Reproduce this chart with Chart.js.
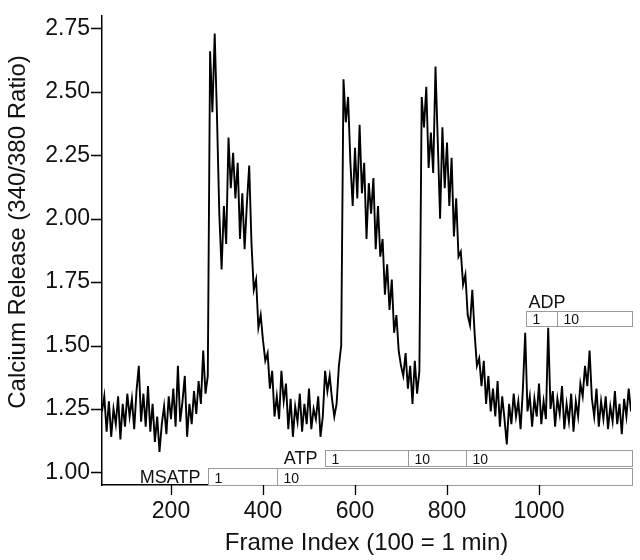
<!DOCTYPE html>
<html>
<head>
<meta charset="utf-8">
<script src="https://cdn.jsdelivr.net/npm/chart.js@4.4.0/dist/chart.umd.min.js"></script>
<style>
  html, body { margin: 0; padding: 0; background: #fff; }
  #wrap { width: 640px; height: 560px; }
</style>
</head>
<body>
<div id="wrap"><canvas id="myChart" width="640" height="560"></canvas></div>
<script>
// 340/380 ratio, every 5 frames starting at frame 50
const frameStart = 50;
const frameStep = 5;
const ratio = [
  // baseline 50-275
  1.24, 1.30, 1.16, 1.28, 1.14, 1.25, 1.19, 1.30, 1.13, 1.27,
  1.18, 1.31, 1.22, 1.29, 1.17, 1.32, 1.42, 1.20, 1.31, 1.18,
  1.34, 1.16, 1.27, 1.12, 1.22, 1.08, 1.19, 1.26, 1.15, 1.30,
  1.21, 1.33, 1.18, 1.42, 1.20, 1.28, 1.38, 1.14, 1.27, 1.19,
  1.32, 1.23, 1.36, 1.27, 1.48, 1.31,
  // first response 280-440
  1.38, 2.66, 2.42, 2.73, 2.40, 2.02, 1.80, 2.05, 1.90, 2.32,
  2.12, 2.26, 2.08, 2.22, 1.92, 2.10, 1.88, 2.06, 2.21, 1.90,
  1.72, 1.76, 1.57, 1.62, 1.52, 1.44, 1.47, 1.33, 1.40, 1.22,
  1.30, 1.21, 1.40,
  // 445-570
  1.28, 1.35, 1.17, 1.29, 1.14, 1.26, 1.20, 1.31, 1.16, 1.27,
  1.19, 1.33, 1.17, 1.25, 1.21, 1.30, 1.14, 1.22, 1.40, 1.32,
  1.38, 1.29, 1.22, 1.27, 1.42, 1.50,
  // second response 575-740
  2.55, 2.38, 2.48, 2.22, 2.05, 2.28, 2.08, 2.37, 2.10, 2.22,
  1.92, 2.14, 2.02, 2.16, 1.88, 2.05, 1.85, 1.92, 1.70, 1.82,
  1.64, 1.76, 1.55, 1.62, 1.48, 1.42, 1.38, 1.47, 1.33, 1.42,
  1.27, 1.44, 1.31, 1.40,
  // third response 745-900
  2.48, 2.36, 2.52, 2.20, 2.34, 2.18, 2.60, 2.30, 2.00, 2.36,
  2.12, 2.30, 2.05, 2.24, 1.93, 2.08, 1.85, 1.87, 1.74, 1.78,
  1.62, 1.58, 1.72, 1.55, 1.42, 1.45, 1.34, 1.44, 1.27, 1.38,
  1.24, 1.33,
  // 905-1200
  1.22, 1.36, 1.18, 1.30, 1.21, 1.11, 1.27, 1.19, 1.31, 1.22,
  1.28, 1.17, 1.33, 1.55, 1.24, 1.30, 1.18, 1.29, 1.22, 1.35,
  1.19, 1.28, 1.21, 1.57, 1.25, 1.32, 1.18, 1.29, 1.23, 1.34,
  1.17, 1.27, 1.20, 1.31, 1.16, 1.28, 1.22, 1.35, 1.30, 1.42,
  1.34, 1.48, 1.29, 1.22, 1.33, 1.18, 1.28, 1.21, 1.30, 1.17,
  1.26, 1.20, 1.32, 1.19, 1.27, 1.15, 1.29, 1.22, 1.33, 1.24
];

const frames = ratio.map((_, i) => frameStart + i * frameStep);

// axis ranges / tick steps
const xMin = 50, xMax = 1200, xMinorStep = 50, xMajorStep = 200;
const yMin = 0.95, yMax = 2.80, yMinorStep = 0.05, yMajorStep = 0.25;
const xLabelled = [200, 400, 600, 800, 1000];
const yTitle = 'Calcium Release (340/380 Ratio)';

// drug application bars (start frame of each segment, concentration)
const msatpStarts = [280, 430];
const msatpDoses = ['1', '10'];
const atpStarts = [535, 715, 841];
const atpDoses = ['1', '10', '10'];
const adpStarts = [972, 1039];
const adpDoses = ['1', '10'];
const barsEnd = 1202;

const bars = [
  { name: 'MSATP', starts: msatpStarts, doses: msatpDoses, lo: 0.95, hi: 1.017, nameAt: 'left' },
  { name: 'ATP', starts: atpStarts, doses: atpDoses, lo: 1.023, hi: 1.088, nameAt: 'left' },
  { name: 'ADP', starts: adpStarts, doses: adpDoses, lo: 1.577, hi: 1.638, nameAt: 'top' }
];

const FONT = '"Liberation Sans", Arial, Helvetica, sans-serif';

function isMultiple(v, step) {
  const q = v / step;
  return Math.abs(q - Math.round(q)) < 1e-6;
}

const axisTicks = {
  id: 'axisTicks',
  afterDraw(chart) {
    const { ctx, chartArea, scales: { x, y } } = chart;
    ctx.save();
    ctx.strokeStyle = '#000';
    ctx.lineWidth = 1.3;
    ctx.beginPath();
    x.ticks.forEach(t => {
      const px = Math.round(x.getPixelForValue(t.value)) + 0.5;
      const len = isMultiple(t.value, xMajorStep) ? 10 : 5;
      ctx.moveTo(px, chartArea.bottom);
      ctx.lineTo(px, chartArea.bottom + len);
    });
    y.ticks.forEach(t => {
      const py = Math.round(y.getPixelForValue(t.value)) + 0.5;
      const len = isMultiple(t.value, yMajorStep) ? 11 : 6;
      ctx.moveTo(chartArea.left - len, py);
      ctx.lineTo(chartArea.left, py);
    });
    ctx.stroke();

    // y axis title, sits a little above the axis middle in the original
    ctx.translate(18, 232);
    ctx.rotate(-Math.PI / 2);
    ctx.font = '24px ' + FONT;
    ctx.fillStyle = '#111';
    ctx.textAlign = 'center';
    ctx.textBaseline = 'middle';
    ctx.fillText(yTitle, 0, 0);
    ctx.restore();
  }
};

const drugBars = {
  id: 'drugBars',
  afterDatasetsDraw(chart) {
    const { ctx, scales: { x, y } } = chart;
    ctx.save();
    bars.forEach(b => {
      const top = Math.round(y.getPixelForValue(b.hi)) + 0.5;
      const bot = Math.round(y.getPixelForValue(b.lo)) + 0.5;
      const left = Math.round(x.getPixelForValue(b.starts[0])) + 0.5;
      const right = Math.round(x.getPixelForValue(barsEnd)) + 0.5;
      ctx.fillStyle = '#fff';
      ctx.fillRect(left, top, right - left, bot - top);
      ctx.strokeStyle = '#9a9a9a';
      ctx.lineWidth = 1;
      ctx.strokeRect(left, top, right - left, bot - top);

      ctx.font = '14px ' + FONT;
      ctx.textAlign = 'left';
      ctx.textBaseline = 'alphabetic';
      b.starts.forEach((s, i) => {
        const px = Math.round(x.getPixelForValue(s)) + 0.5;
        if (i > 0) {
          ctx.beginPath();
          ctx.moveTo(px, top);
          ctx.lineTo(px, bot);
          ctx.stroke();
        }
        ctx.fillStyle = '#111';
        ctx.fillText(b.doses[i], px + 6, bot - 3);
      });

      ctx.font = '18px ' + FONT;
      ctx.fillStyle = '#111';
      if (b.nameAt === 'left') {
        ctx.textAlign = 'right';
        ctx.fillText(b.name, left - 8, bot - 3);
      } else {
        ctx.textAlign = 'left';
        ctx.fillText(b.name, left + 2, top - 4);
      }
    });
    ctx.restore();
  }
};

const ctx = document.getElementById('myChart');

new Chart(ctx, {
  type: 'line',
  data: {
    datasets: [{
      label: 'Calcium',
      data: frames.map((f, i) => ({ x: f, y: ratio[i] })),
      borderColor: '#000',
      borderWidth: 1.9,
      pointRadius: 0,
      tension: 0,
      fill: false
    }]
  },
  options: {
    responsive: false,
    animation: false,
    devicePixelRatio: 1,
    layout: { padding: { top: 4, right: 9, left: 0, bottom: 0 } },
    plugins: {
      legend: { display: false },
      tooltip: { enabled: false }
    },
    scales: {
      x: {
        type: 'linear',
        min: xMin,
        max: xMax,
        afterFit: (scale) => { scale.height = 75; },
        border: { display: true, color: '#000', width: 1.5 },
        grid: { display: true, drawOnChartArea: false, drawTicks: true, tickLength: 10, tickColor: 'rgba(0,0,0,0)' },
        ticks: {
          stepSize: xMinorStep,
          autoSkip: false,
          maxRotation: 0,
          padding: 3,
          color: '#111',
          font: { family: FONT, size: 23 },
          callback: (v) => xLabelled.includes(v) ? String(v) : null
        },
        title: {
          display: true,
          text: 'Frame Index (100 = 1 min)',
          color: '#111',
          font: { family: FONT, size: 24 },
          padding: { top: 0, bottom: 2 }
        }
      },
      y: {
        min: yMin,
        max: yMax,
        afterFit: (scale) => { scale.width = 102; },
        border: { display: true, color: '#000', width: 1.5 },
        grid: { display: true, drawOnChartArea: false, drawTicks: true, tickLength: 10, tickColor: 'rgba(0,0,0,0)' },
        ticks: {
          stepSize: yMinorStep,
          autoSkip: false,
          padding: 2,
          color: '#111',
          font: { family: FONT, size: 23 },
          callback: (v) => isMultiple(v, yMajorStep) ? v.toFixed(2) : null
        }
      }
    }
  },
  plugins: [axisTicks, drugBars]
});
</script>
</body>
</html>
